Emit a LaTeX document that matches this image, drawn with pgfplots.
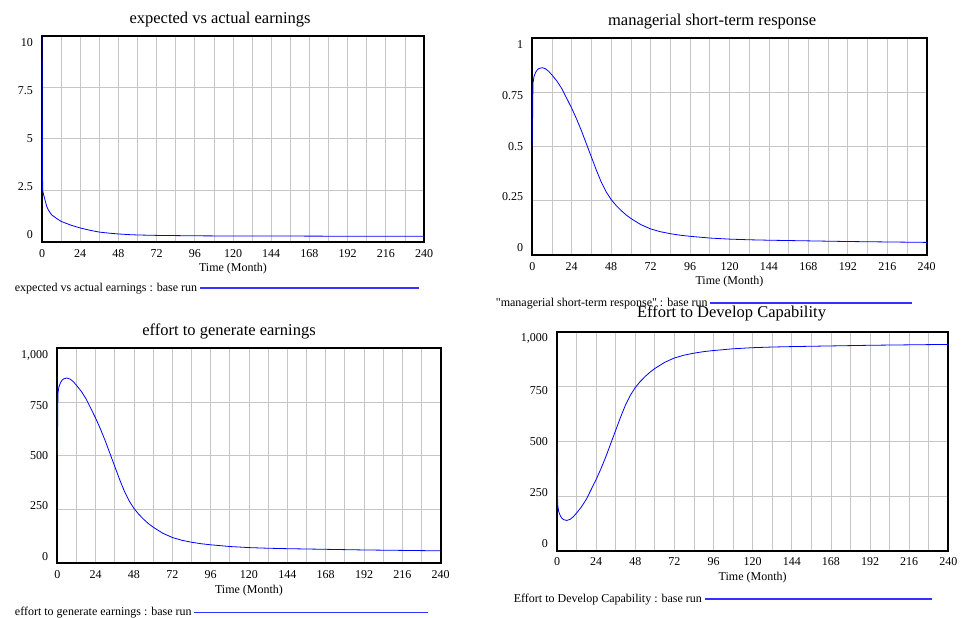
\documentclass[border=0pt]{standalone}
\usepackage{fontspec}
\setmainfont{Liberation Serif}
\usepackage{pgfplots}
\pgfplotsset{compat=1.18}

\definecolor{vblue}{RGB}{0,0,255}
\definecolor{vlegblue}{RGB}{50,50,255}
\tikzset{vleg/.style={draw=vlegblue, line width=1.3pt}}

\pgfplotsset{
  vensim/.style={
    scale only axis,
    line width=1.8pt,
    xmin=0, xmax=240,
    xtick={0,24,...,240},
    minor xtick={12,36,...,228},
    grid=both,
    major grid style={draw=gray!45, line width=0.8pt},
    minor grid style={draw=gray!45, line width=0.8pt},
    major tick length=0pt, minor tick length=0pt,
    axis line style={black, line width=1.8pt},
    tick label style={font=\fontsize{12}{14}\selectfont},
    xticklabel style={yshift=-3pt},
    % Vensim pulls the outer y labels towards the middle
    yticklabel style={xshift=-5pt,
      yshift={7*(\ticknum==0)+3.7*(\ticknum==1)-3.7*(\ticknum==3)-7*(\ticknum==4)}},
    /pgf/number format/assume math mode=true,
    xlabel={Time (Month)},
    label style={font=\fontsize{12}{14}\selectfont},
    every axis title shift=0pt,
    title style={font=\fontsize{16.5}{19}\selectfont, anchor=center, yshift=-1pt},
    legend plot pos=right,
    legend style={draw=none, fill=none, anchor=west, inner sep=0pt,
      font=\fontsize{12}{14}\selectfont},
    legend cell align=left,
  },
  vline/.style={color=vblue, line width=0.8pt},
}

\begin{document}
\begin{tikzpicture}
\path[use as bounding box] (0,0) rectangle (962pt,618pt);

% top left
\begin{axis}[vensim,
  at={(42pt,376pt)}, width=382pt, height=206.3pt,
  ymin=0, ymax=10,
  ytick={0,2.5,5,7.5,10}, yticklabels={0,2.5,5,7.5,10},
  title={expected vs actual earnings},
  title style={at={(0.466,1.081)}},
  xlabel style={at={(0.5,-0.131)}, anchor=center},
  legend style={at={(-0.0785,-0.223)}},
  legend image code/.code={\draw[vleg] (10pt,0pt) -- (229pt,0pt);},
]
\addplot[vline] coordinates {
  (0,10) (0.4,2.5) (1,2.3) (2,2.0) (3,1.72) (4,1.55) (6,1.32) (9,1.15)
  (12,1.0) (18,0.82) (24,0.68) (30,0.57) (36,0.48) (42,0.43) (48,0.39)
  (54,0.36) (60,0.34) (72,0.32) (84,0.31) (96,0.30) (120,0.29) (144,0.29)
  (192,0.28) (240,0.28)
};
\addlegendentry{expected vs actual earnings : base run}
\end{axis}

% top right
\begin{axis}[vensim,
  at={(532.3pt,363pt)}, width=394.4pt, height=217.3pt,
  ymin=0, ymax=1,
  ytick={0,0.25,0.5,0.75,1}, yticklabels={0,0.25,0.5,0.75,1},
  title={managerial short-term response},
  title style={at={(0.456,1.081)}},
  xlabel style={at={(0.5,-0.124)}, anchor=center},
  legend style={at={(-0.0996,-0.221)}},
  legend image code/.code={\draw[vleg] (10pt,0pt) -- (212pt,0pt);},
]
\addplot[vline] coordinates {
  (0,0.5) (0.4,0.79) (1,0.82) (2,0.84) (3,0.852) (4,0.858) (6,0.862)
  (8,0.857) (10,0.845) (12,0.828) (15,0.80) (18,0.765) (21,0.72)
  (24,0.675) (27,0.625) (30,0.57) (33,0.51) (36,0.45) (39,0.39)
  (42,0.335) (45,0.29) (48,0.255) (51,0.228) (54,0.205) (57,0.185)
  (60,0.168) (66,0.14) (72,0.12) (78,0.107) (84,0.098) (90,0.091)
  (96,0.086) (108,0.078) (120,0.073) (132,0.07) (144,0.068) (168,0.065)
  (192,0.062) (216,0.06) (240,0.058)
};
\addlegendentry{\textquotedbl managerial short-term response\textquotedbl{} : base run}
\end{axis}

% bottom left
\begin{axis}[vensim,
  at={(57.3pt,54.7pt)}, width=383.4pt, height=215pt,
  ymin=0, ymax=1000,
  ytick={0,250,500,750,1000}, yticklabels={0,250,500,750,{1,000}},
  title={effort to generate earnings},
  title style={at={(0.448,1.085)}},
  xlabel style={at={(0.5,-0.127)}, anchor=center},
  legend style={at={(-0.118,-0.2275)}},
  legend image code/.code={\draw[vleg] (10pt,0pt) -- (244pt,0pt);},
]
\addplot[vline] coordinates {
  (0,500) (0.4,790) (1,820) (2,840) (3,852) (4,858) (6,862)
  (8,857) (10,845) (12,828) (15,800) (18,765) (21,720)
  (24,675) (27,625) (30,570) (33,510) (36,450) (39,390)
  (42,335) (45,290) (48,255) (51,228) (54,205) (57,185)
  (60,168) (66,140) (72,120) (78,107) (84,98) (90,91)
  (96,86) (108,78) (120,73) (132,70) (144,68) (168,65)
  (192,62) (216,60) (240,58)
};
\addlegendentry{effort to generate earnings : base run}
\end{axis}

% bottom right
\begin{axis}[vensim,
  at={(557pt,67.3pt)}, width=391.3pt, height=219pt,
  ymin=0, ymax=1000,
  ytick={0,250,500,750,1000}, yticklabels={0,250,500,750,{1,000}},
  title={Effort to Develop Capability},
  title style={at={(0.446,1.087)}},
  xlabel style={at={(0.5,-0.125)}, anchor=center},
  legend style={at={(-0.1176,-0.2205)}},
  legend image code/.code={\draw[vleg] (11pt,0pt) -- (238pt,0pt);},
]
\addplot[vline] coordinates {
  (0,500) (0.4,210) (1,180) (2,160) (3,148) (4,142) (6,138)
  (8,143) (10,155) (12,172) (15,200) (18,235) (21,280)
  (24,325) (27,375) (30,430) (33,490) (36,550) (39,610)
  (42,665) (45,710) (48,745) (51,772) (54,795) (57,815)
  (60,832) (66,860) (72,880) (78,893) (84,902) (90,909)
  (96,914) (108,922) (120,927) (132,930) (144,932) (168,935)
  (192,938) (216,940) (240,942)
};
\addlegendentry{Effort to Develop Capability : base run}
\end{axis}
\end{tikzpicture}
\end{document}
